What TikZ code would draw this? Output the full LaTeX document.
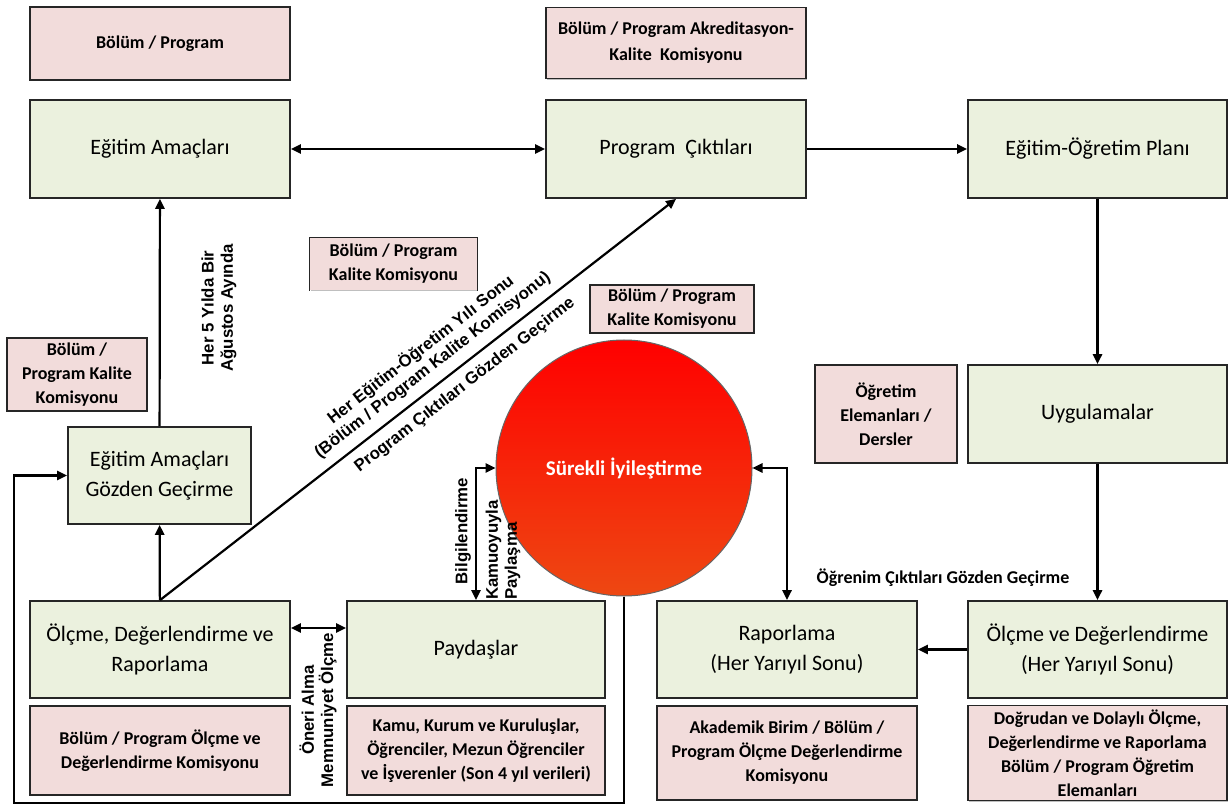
\documentclass[tikz,border=0pt]{standalone}
\usepackage{fontspec}
\setmainfont{Carlito}
\newfontfamily\lblfont{Liberation Sans}
\usetikzlibrary{arrows.meta}
\usetikzlibrary{shadows}

\definecolor{stagegreen}{RGB}{235,241,222}
\definecolor{ownerpink}{RGB}{242,220,219}
\definecolor{loopred}{RGB}{255,0,0}
\definecolor{looporange}{RGB}{238,72,18}

\tikzset{
    stage/.style={draw=black!85, line width=0.9pt, fill=stagegreen, align=center,
        font=\fontsize{11}{15}\selectfont, inner sep=2pt,
        drop shadow={shadow xshift=0.7pt, shadow yshift=-0.7pt, opacity=0.5}},
    owner/.style={draw=black!85, line width=0.7pt, fill=ownerpink, align=center,
        font=\bfseries\fontsize{9}{12}\selectfont, inner sep=2pt,
        drop shadow={shadow xshift=0.7pt, shadow yshift=-0.7pt, opacity=0.5}},
    note/.style={font=\lblfont\bfseries\fontsize{8.4}{9.6}\selectfont, align=center},
}

\begin{document}
\begin{tikzpicture}[x=0.5pt, y=-0.5pt, line width=1.1pt,
    >={Triangle[length=5pt, width=4.6pt]}]

    \useasboundingbox (0,0) rectangle (1230,807);

    % top row
    \node[owner, minimum width=130pt, minimum height=36.5pt] (bolum) at (160,43.5) {Bölüm / Program};
    \node[owner, minimum width=130pt, minimum height=35.5pt] (akred) at (676,43) {Bölüm / Program Akreditasyon-\\[1pt]Kalite~ Komisyonu};
    \node[stage, minimum width=130pt, minimum height=49pt] (amac) at (160,149) {Eğitim Amaçları};
    \node[stage, minimum width=130pt, minimum height=49pt] (cikti) at (676,149) {Program~ Çıktıları};
    \node[stage, minimum width=129.5pt, minimum height=49pt] (plan) at (1097.5,149) {Eğitim-Öğretim Planı};

    % middle
    \node[owner, draw=none, minimum width=83.5pt, minimum height=26pt] (kalitea) at (393.5,264) {Bölüm / Program\\Kalite Komisyonu};
    \draw[black!85, line width=0.7pt] (kalitea.south west) |- (kalitea.north east) -- (kalitea.south east);
    \node[owner, minimum width=82pt, minimum height=24pt] (kaliteb) at (672,309) {Bölüm / Program\\Kalite Komisyonu};
    \node[owner, minimum width=70pt, minimum height=36.5pt] (kalitec) at (77,374.5) {Bölüm /\\Program Kalite\\Komisyonu};
    \node[stage, minimum width=91.5pt, minimum height=48.5pt] (gozden) at (159.5,475.5) {Eğitim Amaçları\\Gözden Geçirme};
    \node[owner, minimum width=71pt, minimum height=49pt] (ders) at (886,414) {Öğretim\\Elemanları /\\Dersler};
    \node[stage, minimum width=129.5pt, minimum height=49pt] (uygula) at (1097.5,414) {Uygulamalar};
    \node[circle, draw=black!60, line width=0.5pt, minimum size=128pt, inner sep=0pt,
        top color=loopred, middle color=loopred, bottom color=looporange,
        text=white, font=\bfseries\fontsize{10.5}{12}\selectfont] (iyi) at (624,468) {Sürekli İyileştirme};

    % bottom row
    \node[stage, minimum width=130pt, minimum height=48.5pt] (olcrap) at (160,649.5) {Ölçme, Değerlendirme ve\\Raporlama};
    \node[owner, minimum width=130pt, minimum height=44.5pt] (olcrapown) at (160,750.5) {Bölüm / Program Ölçme ve\\Değerlendirme Komisyonu};
    \node[stage, minimum width=129pt, minimum height=48.5pt] (paydas) at (476,649.5) {Paydaşlar};
    \node[owner, minimum width=129pt, minimum height=44.5pt] (paydasown) at (476,750.5) {Kamu, Kurum ve Kuruluşlar,\\Öğrenciler, Mezun Öğrenciler\\ve İşverenler (Son 4 yıl verileri)};
    \node[stage, minimum width=130pt, minimum height=48.5pt] (rapor) at (787,649.5) {Raporlama\\(Her Yarıyıl Sonu)};
    \node[owner, minimum width=130pt, minimum height=47pt] (raporown) at (787,753) {Akademik Birim / Bölüm /\\Program Ölçme Değerlendirme\\Komisyonu};
    \node[stage, minimum width=129.5pt, minimum height=48.5pt] (olcde) at (1097.5,649.5) {Ölçme ve Değerlendirme\\(Her Yarıyıl Sonu)};
    \node[owner, minimum width=129.5pt, minimum height=47pt] (olcdeown) at (1097.5,753) {Doğrudan ve Dolaylı Ölçme,\\Değerlendirme ve Raporlama\\Bölüm / Program Öğretim\\Elemanları};

    % labels
    \node[note, rotate=90] (bes) at (219,308) {Her 5 Yılda Bir\\Ağustos Ayında};
    \node[note, rotate=90] (oneri) at (318,710) {Öneri Alma\\Memnuniyet Ölçme};
    \node[note, rotate=90] (bilgi) at (463,531) {Bilgilendirme};
    \node[note, rotate=90, align=left] (kamu) at (503,550) {Kamuoyuyla\\Paylaşma};
    \node[font=\bfseries\fontsize{9}{11}\selectfont] (ogrenim) at (943,578) {Öğrenim Çıktıları Gözden Geçirme};

    \foreach \a/\b in {cikti/plan, plan/uygula, uygula/olcde, olcde/rapor, olcrap/gozden, gozden/amac} {
        \draw[->] (\a) -- (\b);
    }
    \draw[<->] (amac) -- (cikti);
    \draw[<->] ([yshift=10.75pt]olcrap.east) -- ([yshift=10.75pt]paydas.west);
    \draw[<->] (paydas.north) |- (iyi.west);
    \draw[<->] (rapor.north) |- (iyi.east);
    \draw[->] (olcrap.north) -- (cikti.south)
        node[note, pos=0.55, above=1pt, sloped] (yilsonu) {Her Eğitim-Öğretim Yılı Sonu\\(Bölüm / Program Kalite Komisyonu)}
        node[note, pos=0.57, below=1pt, sloped] (ciktigozden) {Program Çıktıları Gözden Geçirme};

    \coordinate (loopcorner) at (14,803);
    \draw[->] (iyi.south) |- (loopcorner) |- (gozden.west);
\end{tikzpicture}
\end{document}
